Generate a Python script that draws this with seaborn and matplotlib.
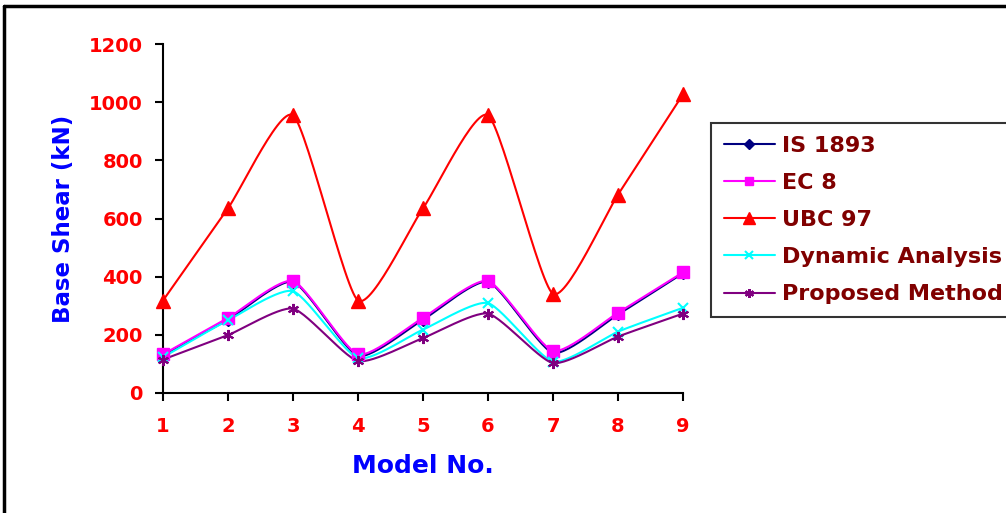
import matplotlib
matplotlib.use("Agg")
import matplotlib.pyplot as plt
from matplotlib.lines import Line2D
import numpy as np
import pandas as pd
import seaborn as sns

# values
models = [1, 2, 3, 4, 5, 6, 7, 8, 9]
is_1893 = [130, 252, 382, 128, 252, 382, 138, 270, 412]
ec_8 = [133, 258, 385, 133, 259, 385, 145, 276, 415]
ubc_97 = [318, 635, 955, 318, 635, 955, 341, 682, 1027]
dynamic = [123, 250, 350, 120, 218, 309, 108, 211, 293]
proposed = [115, 199, 290, 110, 189, 273, 103, 194, 273]

series_names = ["IS 1893", "EC 8", "UBC 97", "Dynamic Analysis", "Proposed Method"]
series_values = [is_1893, ec_8, ubc_97, dynamic, proposed]
colors = ["#000080", "#FF00FF", "#FF0000", "#00FFFF", "#800080"]
markers = ["D", "s", "^", "x", (6, 2, 0)]
msizes = [6, 8, 10, 7, 8]


def smooth(x, y, n=30):
    # Catmull-Rom style curve through the points (like Excel's smoothed line)
    x = np.asarray(x, float)
    y = np.asarray(y, float)
    px = np.concatenate([[x[0]], x, [x[-1]]])
    py = np.concatenate([[y[0]], y, [y[-1]]])
    xs, ys = [], []
    t = np.linspace(0, 1, n)
    for i in range(1, len(px) - 2):
        p0, p1, p2, p3 = [np.array([px[j], py[j]]) for j in (i - 1, i, i + 1, i + 2)]
        m1 = (p2 - p0) / 2 * 0.6
        m2 = (p3 - p1) / 2 * 0.6
        h00 = 2 * t**3 - 3 * t**2 + 1
        h10 = t**3 - 2 * t**2 + t
        h01 = -2 * t**3 + 3 * t**2
        h11 = t**3 - t**2
        pts = (np.outer(h00, p1) + np.outer(h10, m1) + np.outer(h01, p2) + np.outer(h11, m2))
        xs.extend(pts[:, 0])
        ys.extend(pts[:, 1])
    return np.array(xs), np.array(ys)


sns.set_style("white")
plt.rcParams["font.family"] = ["DejaVu Sans"]
plt.rcParams["font.weight"] = "bold"

fig = plt.figure(figsize=(10.06, 5.13), dpi=100)
ax = fig.add_axes([163 / 1006, 120 / 513, 520 / 1006, 349 / 513])

rows = []
for name, vals in zip(series_names, series_values):
    for m, v in zip(models, vals):
        rows.append({"model": m, "shear": v, "series": name})
df = pd.DataFrame(rows)

handles = []
for name, col, mk, ms in zip(series_names, colors, markers, msizes):
    sub = df[df["series"] == name]
    sx, sy = smooth(sub["model"], sub["shear"])
    ax.plot(sx, sy, color=col, lw=1.5, zorder=2)
    thin = isinstance(mk, str) and mk != "x"
    sns.lineplot(data=sub, x="model", y="shear", color=col, marker=mk, markersize=ms,
                 markeredgecolor=col, markeredgewidth=1 if thin else 1.5,
                 linestyle="", ax=ax, zorder=3, clip_on=False)
    handles.append(Line2D([0], [0], color=col, lw=1.5, marker=mk, markersize=ms * 0.8,
                          markeredgecolor=col, markeredgewidth=1 if thin else 1.5))

ax.set_xlim(1, 9)
ax.set_ylim(0, 1200)
ax.set_xticks(models)
ax.set_yticks(range(0, 1201, 200))
for s in ("top", "right"):
    ax.spines[s].set_visible(False)
for s in ("left", "bottom"):
    ax.spines[s].set_color("black")
    ax.spines[s].set_linewidth(1.5)
ax.tick_params(axis="both", direction="out", length=6, width=1.5, color="black",
               labelcolor="#FF0000", labelsize=14, bottom=True, left=True)
ax.tick_params(axis="y", pad=8.5)
ax.tick_params(axis="x", pad=11)
for lab in ax.get_xticklabels() + ax.get_yticklabels():
    lab.set_fontweight("bold")

ax.set_xlabel("Model No.", color="#0000FF", fontsize=18, fontweight="bold", labelpad=13)
ax.set_ylabel("Base Shear (kN)", color="#0000FF", fontsize=16.5, fontweight="bold", labelpad=10)

leg = fig.legend(handles, series_names, loc="upper left", bbox_to_anchor=(711 / 1006, 1 - 123 / 513),
                 borderaxespad=0, frameon=True, fancybox=False, edgecolor="black",
                 handlelength=2.3, handletextpad=0.3, labelspacing=0.77, borderpad=0.58,
                 prop={"weight": "bold", "size": 16})
leg.get_frame().set_linewidth(1.5)
for t in leg.get_texts():
    t.set_color("#800000")

# outer frame (top and left edges visible)
fig.add_artist(Line2D([4 / 1006, 4 / 1006], [0, 1 - 6 / 513], transform=fig.transFigure, color="black", lw=2.5))
fig.add_artist(Line2D([4 / 1006, 1], [1 - 6 / 513, 1 - 6 / 513], transform=fig.transFigure, color="black", lw=2.5))

fig.savefig("out.png", dpi=100)
